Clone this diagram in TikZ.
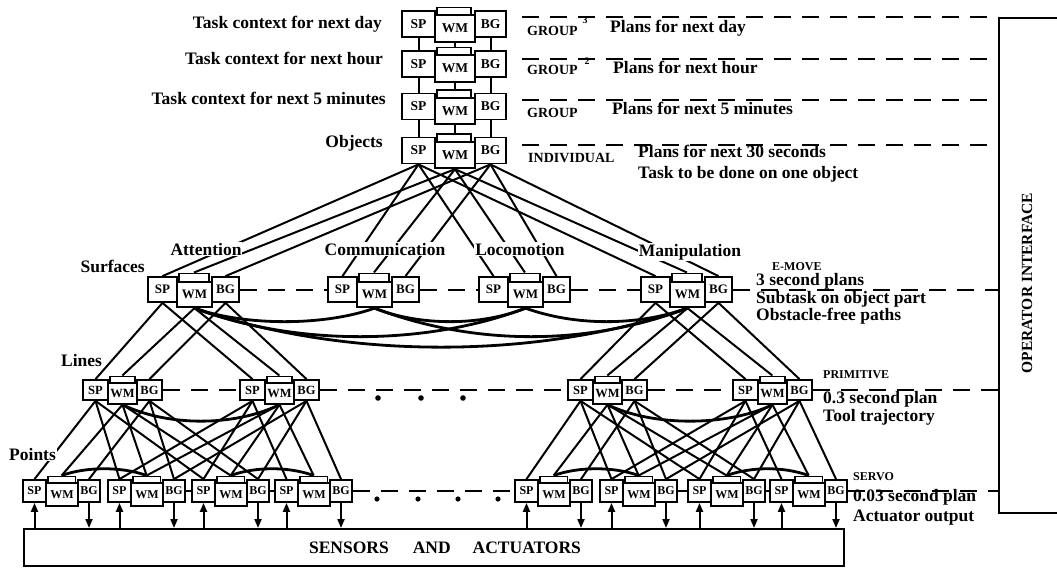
\documentclass[tikz,border=0pt]{standalone}
\usepackage{fontspec}
\setmainfont{Liberation Serif}
\usetikzlibrary{calc,arrows.meta}
\pgfdeclarelayer{bg}
\pgfsetlayers{bg,main}
\newcommand{\modg}[9]{%
  \pgfmathsetmacro\mgxa{#2+#4/2}%
  \pgfmathsetmacro\mgxb{#2+#4+#5/2}%
  \pgfmathsetmacro\mgxc{#2+#4+#5+#6/2}%
  \pgfmathsetmacro\mgyw{#3+#8}%
  \pgfmathsetmacro\mgyt{#3-#7/2-4.5}%
  \pgfmathsetmacro\mgxt{#2+#4+1}%
  \pgfmathsetmacro\mgwt{0.86*#5}%
  \pgfmathsetmacro\mght{#8+#7/2+4.5}%
  \node[box, anchor=north west, minimum width=\mgwt, minimum height=\mght] (#1T) at (\mgxt,\mgyt) {};%
  \node[box, minimum width=#4, minimum height=#7, font=\fontsize{#9}{#9}\selectfont\bfseries] (#1SP) at (\mgxa,#3) {SP};%
  \node[box, minimum width=#6, minimum height=#7, font=\fontsize{#9}{#9}\selectfont\bfseries] (#1BG) at (\mgxc,#3) {BG};%
  \node[box, minimum width=#5, minimum height=#7+0.5, font=\fontsize{#9}{#9}\selectfont\bfseries] (#1WM) at (\mgxb,\mgyw) {WM};%
}
\begin{document}
\begin{tikzpicture}[x=1pt,y=-1pt,
 box/.style={draw,line width=1.8pt,fill=white,inner sep=0pt},
 conn/.style={line width=2pt},
 curv/.style={line width=2.8pt},
 dsh/.style={line width=2pt,dash pattern=on 17pt off 11pt},
 arr/.style={line width=2pt,-{Triangle[length=9pt,width=7pt]}},
 big/.style={font=\fontsize{17.5}{17.5}\selectfont\bfseries,inner sep=0pt},
 lev/.style={big,fill=white,inner sep=1pt},
 mid/.style={font=\fontsize{14}{14}\selectfont\bfseries,inner sep=0pt},
 small/.style={font=\fontsize{12}{12}\selectfont\bfseries,inner sep=0pt},
]
\useasboundingbox (0,0) rectangle (1057,568);

% ---------- modules ----------
\modg{o1}{402}{24}{33}{40}{31}{26}{4.5}{13.5}
\modg{o2}{402}{64}{33}{40}{31}{26}{4.5}{13.5}
\modg{o3}{402}{106.5}{33}{40}{31}{26}{4.5}{13.5}
\modg{o4}{402}{150.5}{33}{40}{31}{26}{4.5}{13.5}

\modg{e1}{148}{289.5}{29}{35}{27}{25}{5}{13}
\modg{e2}{328}{289.5}{29}{35}{27}{25}{5}{13}
\modg{e3}{479}{289.5}{29}{35}{27}{25}{5}{13}
\modg{e4}{641}{289.5}{29}{35}{27}{25}{5}{13}

\modg{p1}{83}{390}{25}{29}{25}{20}{3.5}{12.5}
\modg{p2}{240}{390}{25}{29}{25}{20}{3.5}{12.5}
\modg{p3}{568}{390}{25}{29}{25}{20}{3.5}{12.5}
\modg{p4}{733}{390}{25}{29}{25}{20}{3.5}{12.5}

\modg{s1}{23}{491}{23}{32}{22}{22}{3.5}{12}
\modg{s2}{108}{491}{23}{32}{22}{22}{3.5}{12}
\modg{s3}{192}{491}{23}{32}{22}{22}{3.5}{12}
\modg{s4}{275}{491}{23}{32}{22}{22}{3.5}{12}
\modg{s5}{515}{491}{23}{32}{22}{22}{3.5}{12}
\modg{s6}{600}{491}{23}{32}{22}{22}{3.5}{12}
\modg{s7}{688}{491}{23}{32}{22}{22}{3.5}{12}
\modg{s8}{770}{491}{23}{32}{22}{22}{3.5}{12}

% ---------- big boxes ----------
\node[draw,line width=1.8pt,anchor=north west,minimum width=90,minimum height=495,inner sep=0pt] (opi) at (998,17) {};
\node[font=\fontsize{15.5}{15.5}\selectfont\bfseries,rotate=90] (opit) at (1027,283) {OPERATOR INTERFACE};
\node[draw,line width=1.8pt,anchor=north west,minimum width=820,minimum height=37,inner sep=0pt] (sens) at (23,528) {};
\node[big] (senst) at (445,548) {SENSORS\hspace{24pt}AND\hspace{22pt}ACTUATORS};

% ---------- labels ----------
\node[lev,anchor=base east] (t1) at (383,28) {Task context for next day};
\node[lev,anchor=base east] (t2) at (384,64) {Task context for next hour};
\node[lev,anchor=base east] (t3) at (387,104) {Task context for next 5 minutes};
\node[lev,anchor=base east] (t4) at (384,147) {Objects};

\node[mid,anchor=base west] (g1) at (527,35) {GROUP};
\node[font=\fontsize{10}{10}\selectfont\bfseries,inner sep=0pt] (g1n) at (585,20) {3};
\node[big,anchor=base west] (r1) at (610,32) {Plans for next day};
\node[mid,anchor=base west] (g2) at (527,74) {GROUP};
\node[font=\fontsize{10}{10}\selectfont\bfseries,inner sep=0pt] (g2n) at (587,61) {2};
\node[big,anchor=base west] (r2) at (613,73) {Plans for next hour};
\node[mid,anchor=base west] (g3) at (527,117) {GROUP};
\node[big,anchor=base west] (r3) at (612,114) {Plans for next 5 minutes};
\node[mid,anchor=base west] (g4) at (528,162) {INDIVIDUAL};
\node[big,anchor=base west] (r4) at (638,157) {Plans for next 30 seconds};
\node[big,anchor=base west] (r5) at (638,178) {Task to be done on one object};

\node[lev,anchor=base] (la) at (206,255) {Attention};
\node[lev,anchor=base] (lc) at (385,255) {Communication};
\node[lev,anchor=base] (ll) at (520,255) {Locomotion};
\node[lev,anchor=base] (lm) at (690,256) {Manipulation};
\node[lev,anchor=base east] (lsurf) at (146,272) {Surfaces};
\node[small,anchor=base west] (em) at (772,270) {E-MOVE};
\node[big,anchor=base west] (em1) at (756,285) {3 second plans};
\node[big,anchor=base west] (em2) at (756,303) {Subtask on object part};
\node[big,anchor=base west] (em3) at (756,320) {Obstacle-free paths};

\node[lev,anchor=base west] (llines) at (60,366) {Lines};
\node[small,anchor=base west] (pr) at (823,378) {PRIMITIVE};
\node[big,anchor=base west] (pr1) at (823,403) {0.3 second plan};
\node[big,anchor=base west] (pr2) at (823,421) {Tool trajectory};

\node[lev,anchor=base west] (lpts) at (8,460) {Points};
\node[small,anchor=base west] (sv) at (853,480) {SERVO};
\node[big,anchor=base west] (sv1) at (853,501) {0.03 second plan};
\node[big,anchor=base west] (sv2) at (853,521) {Actuator output};

% dots
\foreach \x in {378,421,463} \fill (\x,398) circle (2.8);
\foreach \x in {377,418,458,498} \fill (\x,499) circle (2.6);

% ---------- connections ----------
\begin{pgfonlayer}{bg}
\foreach \a/\b in {o1/o2,o2/o3,o3/o4}{
  \draw[conn] (\a SP.south) -- (\b SP.north);
  \draw[conn] (\a WM.south) -- (\a WM.south |- \b T.north);
  \draw[conn] (\a BG.south) -- (\b BG.north);
}
\foreach \g in {1,2,3,4}{
  \draw[conn] (o4SP.south) -- (e\g SP.north);
  \draw[conn] (o4WM.south) -- (e\g T.north);
  \draw[conn] (o4BG.south) -- (e\g BG.north);
}
% E-MOVE WM interconnections
\draw[curv] (e1WM.south) .. controls +(50,18) and +(-50,18) .. (e2WM.south);
\draw[curv] (e1WM.south) .. controls +(100,38) and +(-100,38) .. (e3WM.south);
\draw[curv] (e1WM.south) .. controls +(150,52) and +(-150,52) .. (e4WM.south);
\draw[curv] (e2WM.south) .. controls +(45,18) and +(-45,18) .. (e3WM.south);
\draw[curv] (e2WM.south) .. controls +(100,38) and +(-100,38) .. (e4WM.south);
\draw[curv] (e3WM.south) .. controls +(50,18) and +(-50,18) .. (e4WM.south);
% E-MOVE -> primitive
\foreach \u/\d in {e1/p1,e1/p2,e4/p3,e4/p4}{
  \draw[conn] (\u SP.south) -- (\d SP.north);
  \draw[conn] (\u WM.south) -- (\d T.north);
  \draw[conn] (\u BG.south) -- (\d BG.north);
}
% primitive curves
\draw[curv] (p1WM.south) .. controls +(45,22) and +(-45,22) .. (p2WM.south);
\draw[curv] (p3WM.south) .. controls +(45,22) and +(-45,22) .. (p4WM.south);
% primitive -> servo
\foreach \u/\d in {p1/s1,p1/s2,p1/s3,p2/s2,p2/s3,p2/s4,p3/s5,p3/s6,p3/s7,p4/s6,p4/s7,p4/s8}{
  \draw[conn] (\u SP.south) -- (\d SP.north);
  \draw[conn] (\u WM.south) -- (\d T.north);
  \draw[conn] (\u BG.south) -- (\d BG.north);
}
% servo arcs
\foreach \a/\b in {s1/s2,s3/s4,s5/s6,s7/s8}{
  \draw[curv] (\a T.north) .. controls +(25,-9) and +(-25,-9) .. (\b T.north);
}
% servo arrows
\foreach \s in {s1,s2,s3,s4,s5,s6,s7,s8}{
  \draw[arr] (\s SP.south |- sens.north) -- (\s SP.south);
  \draw[arr] (\s BG.south) -- (\s BG.south |- sens.north);
}
% dashed level lines
\coordinate (d1) at (522,17);
\coordinate (d2) at (522,59);
\coordinate (d3) at (522,100);
\coordinate (d4) at (522,145);
\foreach \d in {d1,d2,d3,d4} \draw[dsh] (\d) -- (\d -| opi.west);
\draw[dsh] (e1BG.east) -- (e2SP.west);
\draw[dsh] (e2BG.east) -- (e3SP.west);
\draw[dsh] (e3BG.east) -- (e4SP.west);
\draw[dsh] (e4BG.east) -- (e4BG.east -| opi.west);
\draw[dsh] (p1BG.east) -- (p2SP.west);
\draw[dsh] (p2BG.east) -- (p3SP.west);
\draw[dsh] (p3BG.east) -- (p4SP.west);
\draw[dsh] (p4BG.east) -- (p4BG.east -| opi.west);
\draw[dsh] (s4BG.east) -- (s5SP.west);
\draw[dsh] (s8BG.east) -- (s8BG.east -| opi.west);
\draw[conn] (s2BG.east) -- (s3SP.west);
\draw[conn] (s3BG.east) -- (s4SP.west);
\draw[conn] (s6BG.east) -- (s7SP.west);
\draw[conn] (s7BG.east) -- (s8SP.west);
\end{pgfonlayer}
\end{tikzpicture}
\end{document}
